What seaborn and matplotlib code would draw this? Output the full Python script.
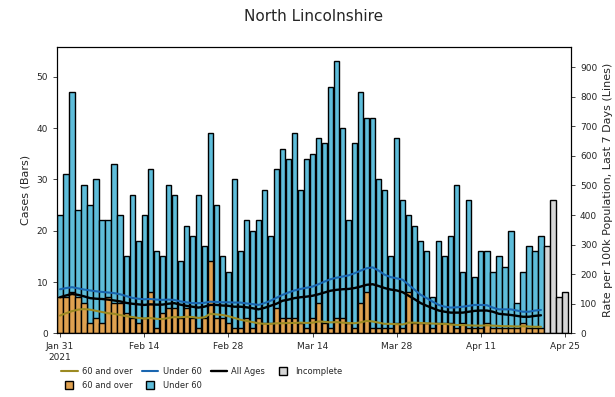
import matplotlib
matplotlib.use("Agg")
import matplotlib.pyplot as plt
from matplotlib.lines import Line2D
import numpy as np
import pandas as pd
import seaborn as sns

# Daily cases, Jan 31 - Apr 21 2021 (complete days)
over_60 = [7, 7, 8, 7, 6, 2, 3, 2, 7, 6, 6, 4, 3, 2, 3, 8, 1, 4, 5, 5,
           3, 5, 3, 1, 3, 14, 3, 3, 2, 1, 1, 3, 1, 3, 2, 2, 5, 3, 3, 3,
           2, 1, 3, 6, 2, 1, 3, 3, 2, 1, 6, 8, 1, 1, 1, 1, 2, 1, 8, 2,
           2, 2, 1, 2, 2, 2, 1, 2, 1, 1, 1, 2, 1, 1, 1, 1, 1, 2, 1, 1, 1]
under_60 = [16, 24, 39, 17, 23, 23, 27, 20, 15, 27, 17, 11, 24, 16, 20, 24, 15, 11, 24, 22,
            11, 16, 16, 26, 14, 25, 22, 12, 10, 29, 15, 19, 19, 19, 26, 17, 27, 33, 31, 36,
            26, 33, 32, 32, 35, 47, 50, 37, 20, 36, 41, 34, 41, 29, 27, 14, 36, 25, 15, 19,
            16, 14, 6, 16, 13, 17, 28, 10, 25, 10, 15, 14, 11, 14, 12, 19, 5, 10, 16, 15, 18]
# Apr 22 - Apr 25 (incomplete)
incomplete = [17, 26, 7, 8]

# Rate per 100k population, last 7 days
rate_60_over = [60, 68, 75, 80, 82, 80, 76, 72, 68, 66, 62, 58, 55, 52, 50, 52, 49, 48, 52, 55,
                54, 56, 55, 52, 54, 66, 64, 62, 58, 52, 46, 42, 38, 34, 32, 32, 34, 34, 35, 35,
                36, 35, 36, 40, 39, 37, 38, 36, 35, 34, 37, 42, 40, 36, 32, 32, 31, 30, 36, 36,
                35, 34, 33, 32, 32, 30, 28, 28, 27, 26, 26, 27, 26, 25, 24, 24, 23, 24, 23, 22, 22]
rate_under_60 = [149, 153, 156, 152, 148, 145, 142, 140, 138, 136, 132, 126, 120, 117, 115, 116, 114, 113, 114, 113,
                 108, 105, 102, 102, 103, 107, 106, 105, 105, 104, 104, 101, 99, 96, 102, 110, 120, 130, 138, 145,
                 150, 154, 158, 166, 175, 183, 188, 192, 196, 203, 212, 220, 223, 212, 198, 190, 186, 181, 164, 147,
                 130, 119, 107, 96, 90, 87, 88, 90, 93, 96, 96, 95, 87, 81, 81, 81, 77, 73, 73, 77, 79]
rate_all = [122, 128, 133, 130, 125, 119, 117, 116, 114, 111, 108, 103, 100, 98, 96, 98, 97, 97, 100, 102,
            97, 93, 90, 87, 90, 96, 96, 94, 93, 90, 90, 88, 85, 81, 86, 93, 100, 110, 114, 119,
            122, 124, 127, 132, 138, 144, 147, 149, 150, 153, 158, 164, 166, 160, 153, 148, 145, 139, 127, 115,
            102, 93, 85, 77, 73, 70, 70, 70, 73, 76, 77, 77, 73, 66, 64, 62, 59, 56, 56, 59, 61]

dates = pd.date_range("2021-01-31", periods=len(over_60) + len(incomplete), freq="D")

c_over = "#DFA150"
c_under = "#5EBDDA"
c_line_over = "#9C8A22"
c_line_under = "#1A66B0"
c_incomplete = "#D6D6D6"

n_done = len(over_60)
days = np.arange(len(dates))
df = pd.DataFrame({
    "day": days[:n_done],
    "over": over_60,
    "total": np.array(over_60) + np.array(under_60),
    "r_over": rate_60_over,
    "r_under": rate_under_60,
    "r_all": rate_all,
})
df_inc = pd.DataFrame({"day": days[n_done:], "cases": incomplete})

sns.set_style("ticks")
plt.rcParams["font.family"] = ["DejaVu Sans"]

fig = plt.figure(figsize=(6.15, 3.97), dpi=100)
ax = fig.add_axes([0.0927, 0.1604, 0.8358, 0.7212])

bar_kw = dict(native_scale=True, errorbar=None, width=0.88, edgecolor="black", linewidth=1.0, ax=ax)
sns.barplot(data=df, x="day", y="total", color=c_under, saturation=1, **bar_kw)
sns.barplot(data=df, x="day", y="over", color=c_over, saturation=1, **bar_kw)
sns.barplot(data=df_inc, x="day", y="cases", color=c_incomplete, saturation=1, **bar_kw)

ax2 = ax.twinx()
sns.lineplot(data=df, x="day", y="r_over", color=c_line_over, linewidth=1.5, ax=ax2, legend=False)
sns.lineplot(data=df, x="day", y="r_under", color=c_line_under, linewidth=1.5, ax=ax2, legend=False)
sns.lineplot(data=df, x="day", y="r_all", color="black", linewidth=1.7, ax=ax2, legend=False)

ax.set_xlim(-0.5, 85)
ax.set_ylim(0, 55.8)
ax2.set_ylim(0, 968)
ax.set_yticks(range(0, 51, 10))
ax2.set_yticks(range(0, 901, 100))

tick_pos = days[::14]
tick_lab = [d.strftime("%b %d") for d in dates[::14]]
tick_lab[0] = tick_lab[0] + "\n2021"
ax.set_xticks(tick_pos)
ax.set_xticklabels(tick_lab)

ax.set_xlabel("")
ax.set_ylabel("Cases (Bars)", fontsize=8)
ax2.set_xlabel("")
ax2.set_ylabel("Rate per 100k Population, Last 7 Days (Lines)", fontsize=8)
for a in (ax, ax2):
    a.tick_params(labelsize=6.5, length=3, width=0.6)
    for s in a.spines.values():
        s.set_linewidth(0.8)
        s.set_color("black")

ax.set_title("North Lincolnshire", fontsize=11, pad=19)

handles = [
    Line2D([], [], color=c_line_over, lw=1.5, label="60 and over"),
    Line2D([], [], marker="s", ls="none", markersize=5.5, markerfacecolor=c_over,
           markeredgecolor="black", label="60 and over"),
    Line2D([], [], color=c_line_under, lw=1.5, label="Under 60"),
    Line2D([], [], marker="s", ls="none", markersize=5.5, markerfacecolor=c_under,
           markeredgecolor="black", label="Under 60"),
    Line2D([], [], color="black", lw=1.7, label="All Ages"),
    Line2D([], [], marker="s", ls="none", markersize=5.5, markerfacecolor=c_incomplete,
           markeredgecolor="black", label="Incomplete"),
]
fig.legend(handles=handles, ncol=4, loc="upper left", bbox_to_anchor=(0.094, 0.084),
           borderaxespad=0, frameon=False, fontsize=6, columnspacing=1.1,
           handlelength=2.0, handletextpad=0.5, labelspacing=0.6)

fig.savefig("out.png", dpi=100)
